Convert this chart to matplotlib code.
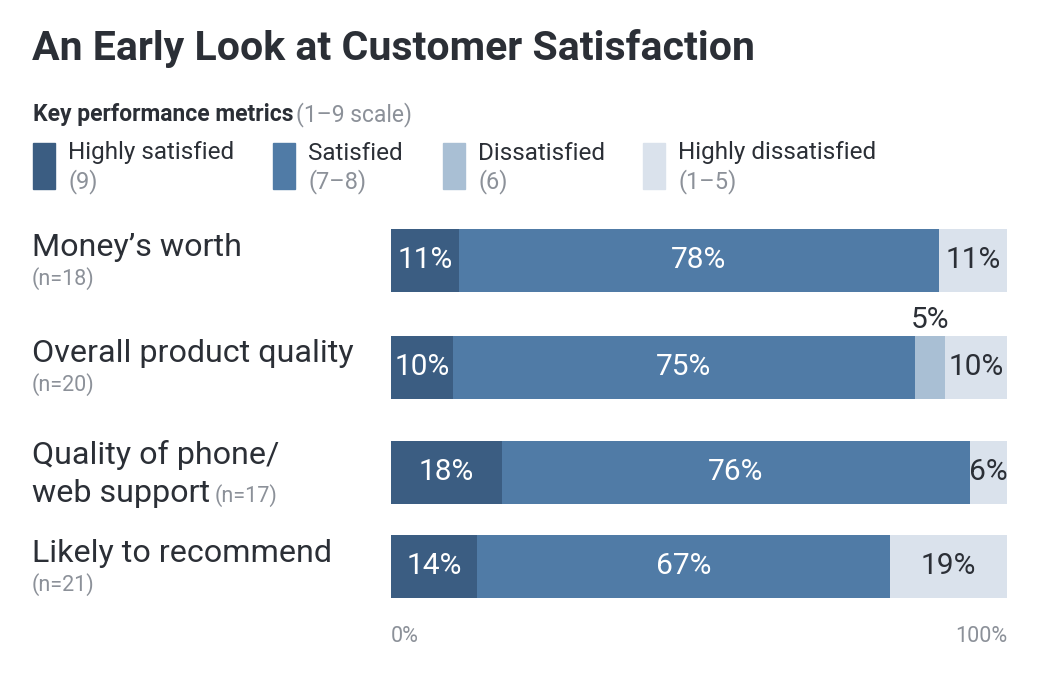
import matplotlib
matplotlib.use("Agg")
import matplotlib.pyplot as plt
from matplotlib.patches import Rectangle

plt.rcParams['font.family'] = ['Roboto', 'DejaVu Sans']

# data
categories = ["Money\u2019s worth", "Overall product quality", "Quality of phone/\nweb support", "Likely to recommend"]
sample_sizes = ["(n=18)", "(n=20)", "(n=17)", "(n=21)"]
highly_satisfied = [11, 10, 18, 14]
satisfied = [78, 75, 76, 67]
dissatisfied = [0, 5, 0, 0]
highly_dissatisfied = [11, 10, 6, 19]
legend_names = ["Highly satisfied", "Satisfied", "Dissatisfied", "Highly dissatisfied"]
legend_ranges = ["(9)", "(7\u20138)", "(6)", "(1\u20135)"]
tick_labels = ["0%", "100%"]

colors = ["#3b5d82", "#507ba6", "#a9bfd4", "#dae2ec"]
label_colors = ["white", "white", "#2b2f36", "#2b2f36"]
dark = "#2b2f36"
gray = "#8c9199"

W, H = 1039, 682
fig = plt.figure(figsize=(W / 100, H / 100), dpi=100)

def fx(x):
    return x / W

def fy(y):
    return 1 - y / H

# title and subtitle
fig.text(fx(32), fy(49), "An Early Look at Customer Satisfaction", fontsize=29.5,
         fontweight='bold', color=dark, va='center', ha='left')
sub = fig.text(fx(33), fy(121), "Key performance metrics", fontsize=16.5,
               fontweight='bold', color=dark, va='baseline', ha='left')

# legend
swatch_x = [33, 273, 443, 643]
for i in range(4):
    fig.patches.append(Rectangle((fx(swatch_x[i]), fy(189)), fx(22), 46 / H,
                                 transform=fig.transFigure, color=colors[i]))
    fig.text(fx(swatch_x[i] + 35), fy(153), legend_names[i], fontsize=17.5,
             color=dark, va='center', ha='left')
    fig.text(fx(swatch_x[i] + 35), fy(182), legend_ranges[i], fontsize=17,
             color=gray, va='center', ha='left')

# bars
ax = fig.add_axes([fx(391), 0, fx(1007) - fx(391), 1])
ax.set_xlim(0, 100)
ax.set_ylim(H, 0)
ax.axis('off')

bar_y = [260.5, 367, 472.5, 566.5]
series = [highly_satisfied, satisfied, dissatisfied, highly_dissatisfied]
for i in range(len(categories)):
    left = 0
    for j, vals in enumerate(series):
        v = vals[i]
        if v == 0:
            continue
        ax.barh(bar_y[i], v, left=left, height=63, color=colors[j])
        if v < 8 and j == 2:
            ax.text(left + v / 2, bar_y[i] - 47, f"{v}%", ha='center', va='center',
                    fontsize=21.5, color=dark)
        else:
            ax.text(left + v / 2, bar_y[i], f"{v}%", ha='center', va='center',
                    fontsize=21.5, color=label_colors[j])
        left += v

ax.text(0, 636, tick_labels[0], ha='left', va='center', fontsize=15.5, color=gray)
ax.text(100, 636, tick_labels[1], ha='right', va='center', fontsize=15.5, color=gray)

# category labels
cat_y = [247, 353, 455, 553]
for i, cat in enumerate(categories):
    lines = cat.split("\n")
    for k, line in enumerate(lines):
        t = fig.text(fx(32), fy(cat_y[i] + k * 39), line, fontsize=23.2, color=dark,
                     va='center', ha='left')
    if len(lines) == 1:
        fig.text(fx(32), fy(cat_y[i] + 32), sample_sizes[i], fontsize=15.5,
                 color=gray, va='center', ha='left')
    else:
        fig.canvas.draw()
        bb = t.get_window_extent()
        fig.text(fx(bb.x1 + 4), fy(cat_y[i] + (len(lines) - 1) * 39 + 2), sample_sizes[i],
                 fontsize=15.5, color=gray, va='center', ha='left')

fig.canvas.draw()
bb = sub.get_window_extent()
fig.text(fx(bb.x1 + 3), fy(121), "(1\u20139 scale)", fontsize=16.5, color=gray,
         va='baseline', ha='left')

fig.savefig("out.png", dpi=100)
